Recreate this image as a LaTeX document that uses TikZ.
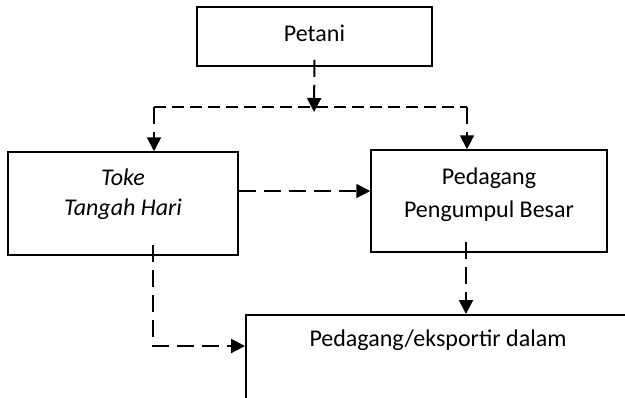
\documentclass[tikz,border=0pt]{standalone}
\usepackage{fontspec}
\setmainfont{Carlito}
\usetikzlibrary{arrows.meta,calc}

\tikzset{
  box/.style={draw, line width=0.75pt, align=center, inner sep=0pt,
    font=\fontsize{12}{16.5}\selectfont},
  dashline/.style={line width=1pt, dash pattern=on 8.5pt off 4pt},
  flow/.style={dashline, -{Triangle[width=7pt,length=7pt]}},
}

\begin{document}
\begin{tikzpicture}[x=0.5pt, y=-0.5pt]
\useasboundingbox (0,0) rectangle (625,397);
\clip (0,0) rectangle (625,397);

% boxes
\node[box, minimum width=117.5pt, minimum height=29.5pt, text depth=3pt] (petani) at (314.5,36.5) {Petani};
\node[box, minimum width=115pt, minimum height=51.5pt, text depth=11pt, font=\fontsize{12}{15}\selectfont\itshape] (toke) at (123,203.5) {Toke\\Tangah Hari};
\node[box, minimum width=118pt, minimum height=51pt, text depth=8pt] (pengumpul) at (489,201) {Pedagang\\Pengumpul Besar};
\node[box, anchor=north west, minimum width=240pt, minimum height=80pt] (eksportir) at (245,314) {};
\node[font=\fontsize{12}{14}\selectfont, inner sep=0pt] (eksportirtext) at (438,340) {Pedagang/eksportir dalam};

% split below Petani
\coordinate (split) at (314,107);
\coordinate (splitL) at (154,107);
\coordinate (splitR) at (467,107);
\draw[flow] ([yshift=3.5pt]petani.south) -- ([yshift=-2.5pt]split);
\draw[dashline, dash pattern=on 6pt off 3pt] (splitL) -- (splitR);
\draw[flow] (splitL) -- (splitL |- toke.north);
\draw[flow] (splitR) -- (splitR |- pengumpul.north);

% Toke -> Pengumpul
\coordinate (tokeE) at ($(toke.east)+(0,-12.5)$);
\draw[flow] (tokeE) -- (tokeE -| pengumpul.west);

% Pengumpul -> eksportir
\coordinate (pengS) at (466,242);
\draw[flow] (pengS) -- (pengS |- eksportir.north);

% Toke -> eksportir
\coordinate (tokeS) at (153,245);
\coordinate (tokeC) at (153,346);
\draw[flow] (tokeS) |- (tokeC -| eksportir.west);
\end{tikzpicture}
\end{document}
